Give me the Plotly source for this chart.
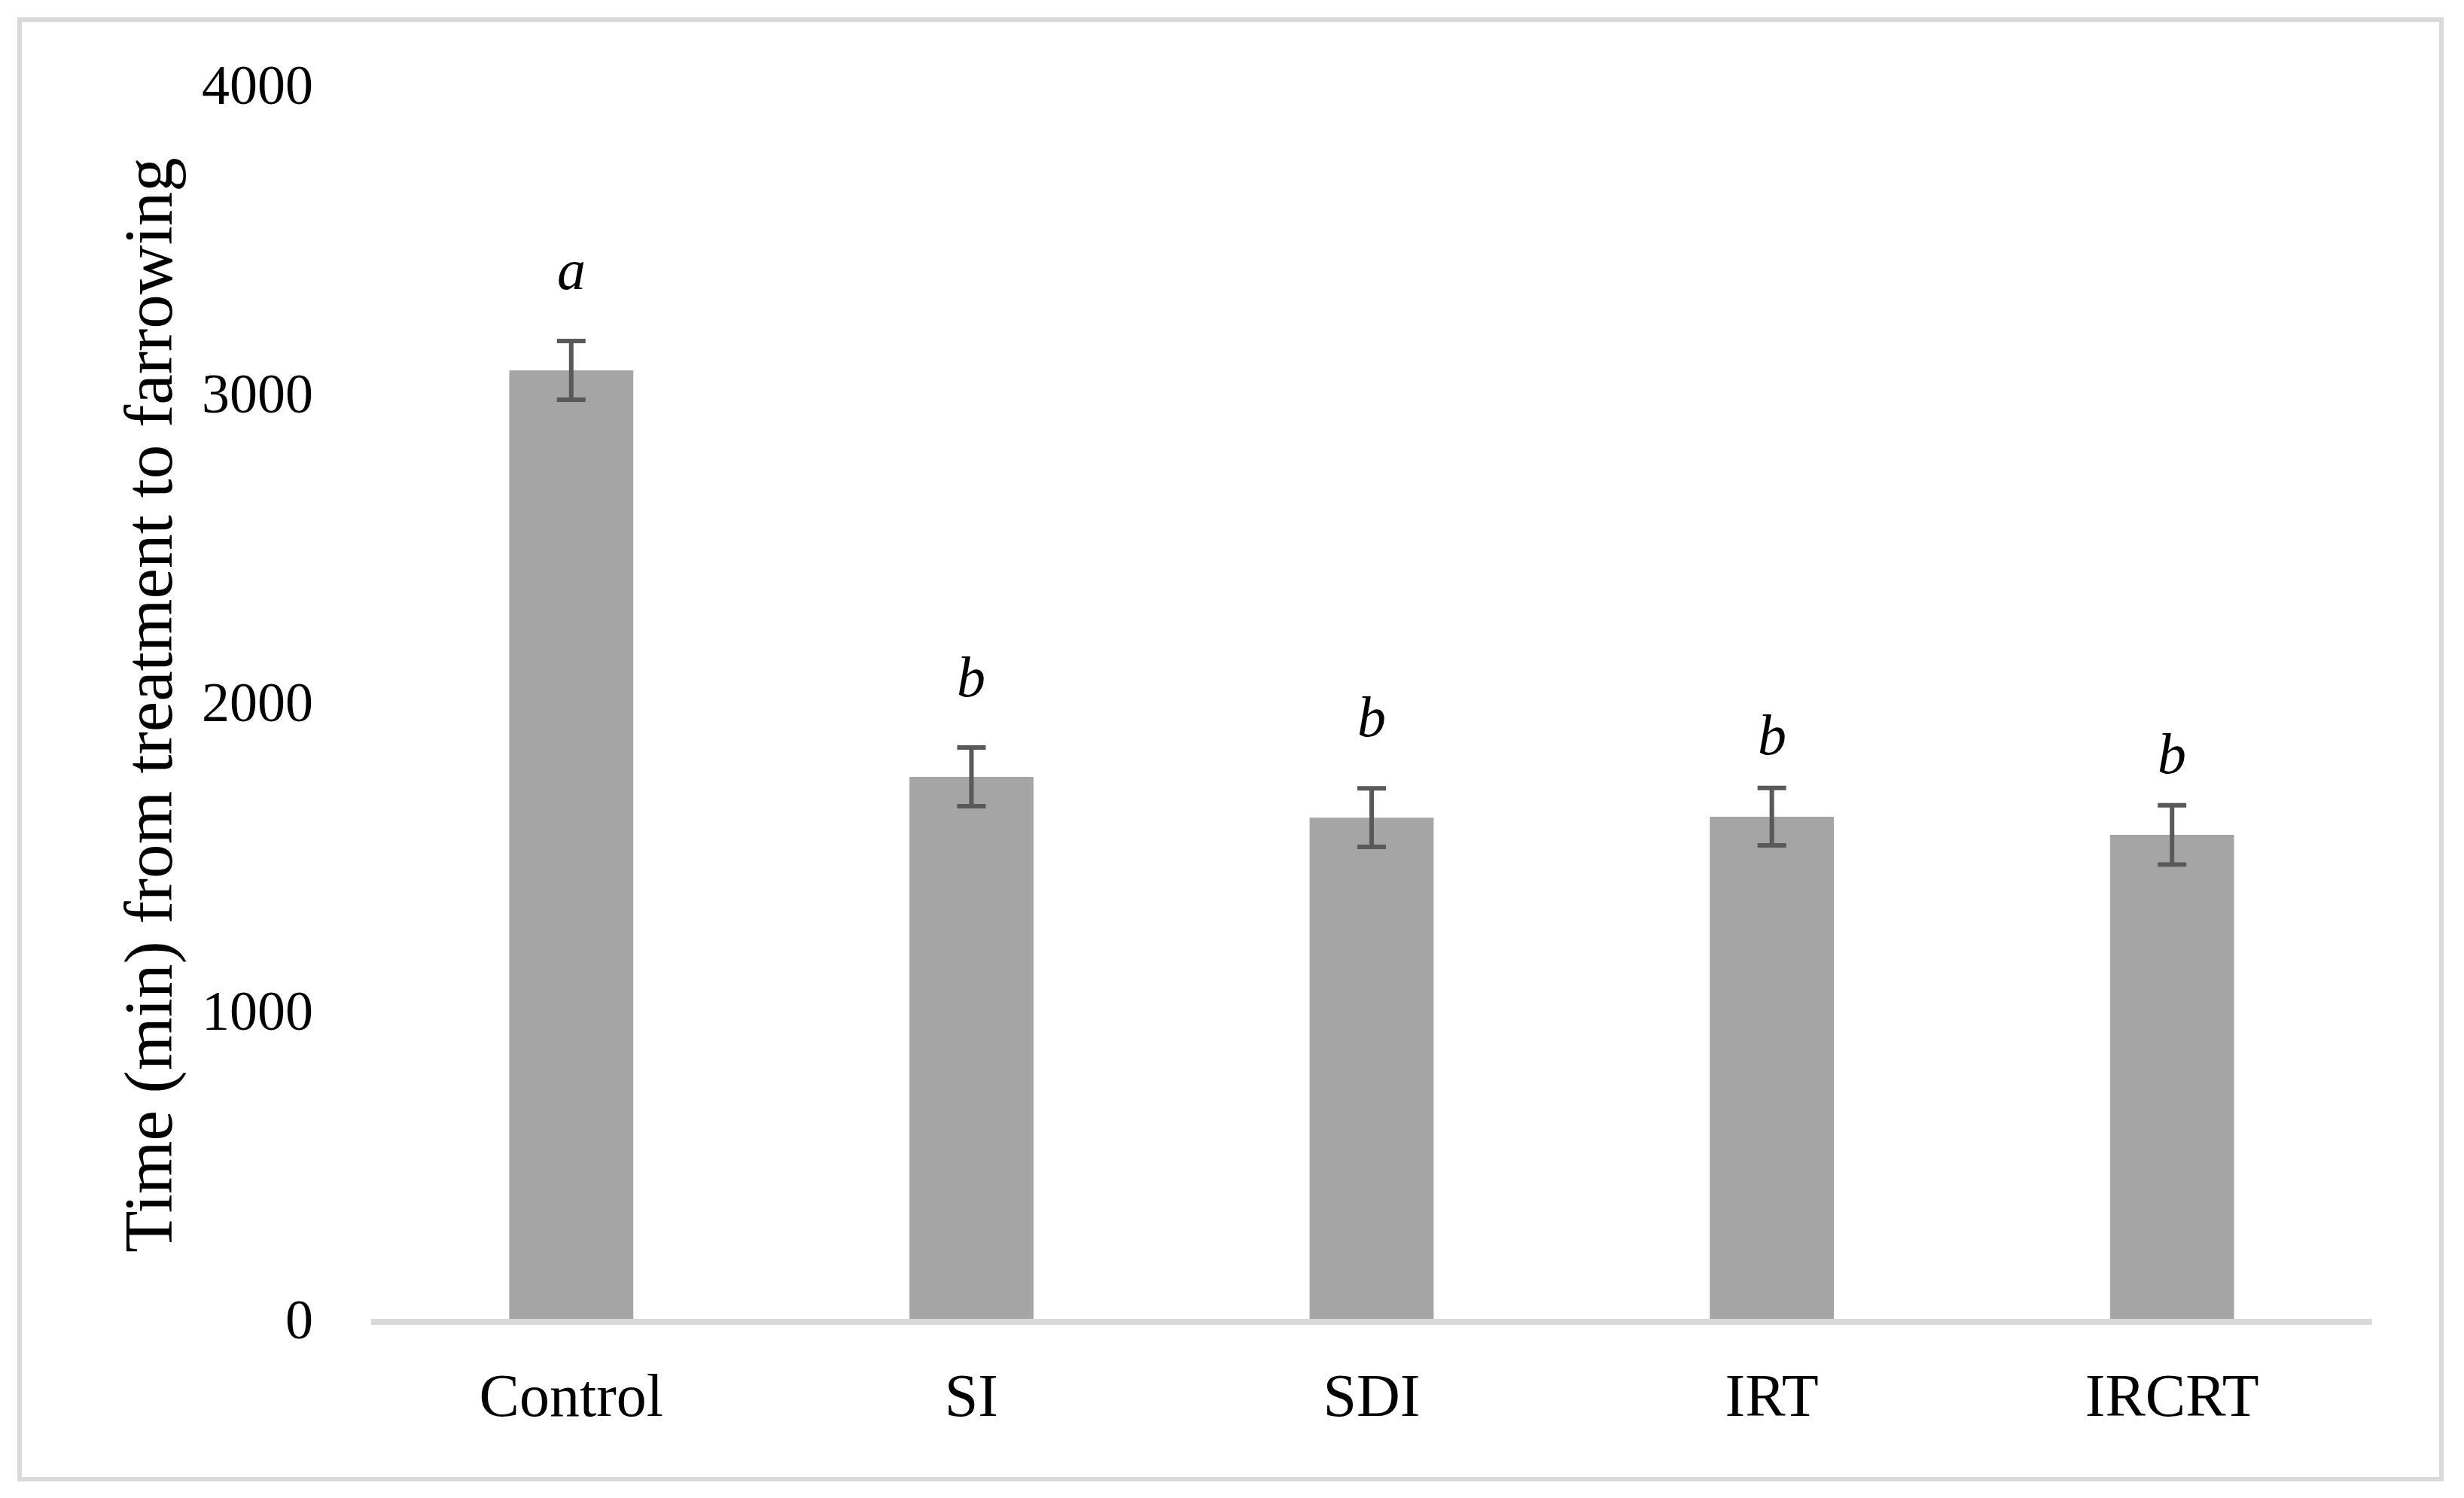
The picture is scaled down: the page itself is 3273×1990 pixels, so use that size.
import plotly.graph_objects as go

categories = ["Control", "SI", "SDI", "IRT", "IRCRT"]
means = [3073, 1756, 1624, 1627, 1568]
errors = [95, 95, 95, 93, 96]
letters = ["a", "b", "b", "b", "b"]
letter_y = [3337, 2017, 1888, 1829, 1768]
y_ticks = [0, 1000, 2000, 3000, 4000]
y_title = "Time (min) from treatment to farrowing"

OFF = 8  # browser default body margin
W, H = 3273 - 2 * OFF, 1990 - 2 * OFF
# plot area in window pixels: x 493..3151, y 112..1752
L, T = 493 - OFF, 112 - OFF
R = W - (3151 - OFF)
B = H - (1752 - OFF)
pw, ph = W - L - R, H - T - B


def px_x(xw):
    return (xw - OFF - L) / pw


def px_y(yw):
    return (H - B - (yw - OFF)) / ph


FONT = "Liberation Serif"

fig = go.Figure()
fig.add_trace(go.Bar(
    x=categories, y=means, width=0.31,
    marker=dict(color="#a5a5a5", line=dict(width=0)),
    error_y=dict(type="data", array=errors, visible=True,
                 color="#595959", thickness=6, width=19),
    showlegend=False,
))

for c, t, yy in zip(categories, letters, letter_y):
    fig.add_annotation(x=c, y=yy, text="<i>" + t + "</i>", showarrow=False,
                       xref="x", yref="y", yanchor="bottom", yshift=-18,
                       font=dict(family=FONT, size=76, color="black"))

fig.add_annotation(text=y_title, textangle=-90, showarrow=False,
                   xref="paper", yref="paper",
                   x=px_x(197), y=px_y(937),
                   xanchor="center", yanchor="middle",
                   font=dict(family=FONT, size=91, color="black"))

# outer frame
fig.add_shape(type="rect", xref="paper", yref="paper",
              x0=px_x(26), x1=px_x(3243),
              y0=px_y(1965), y1=px_y(26),
              line=dict(color="#d9d9d9", width=6), fillcolor="rgba(0,0,0,0)",
              layer="below")

fig.update_layout(
    width=W, height=H,
    margin=dict(l=L, r=R, t=T, b=B, autoexpand=False),
    plot_bgcolor="white", paper_bgcolor="white",
    xaxis=dict(range=[-0.5, 4.5], showline=True, linecolor="#d9d9d9", linewidth=8,
               showgrid=False, zeroline=False, ticks="",
               tickfont=dict(family=FONT, size=80, color="black"),
               ticklabelstandoff=25),
    yaxis=dict(range=[0, 4000], tickvals=y_ticks, showgrid=False, zeroline=False,
               showline=False, ticks="",
               tickfont=dict(family=FONT, size=74, color="black"),
               ticklabelstandoff=76),
)

fig.write_html("out.html")
